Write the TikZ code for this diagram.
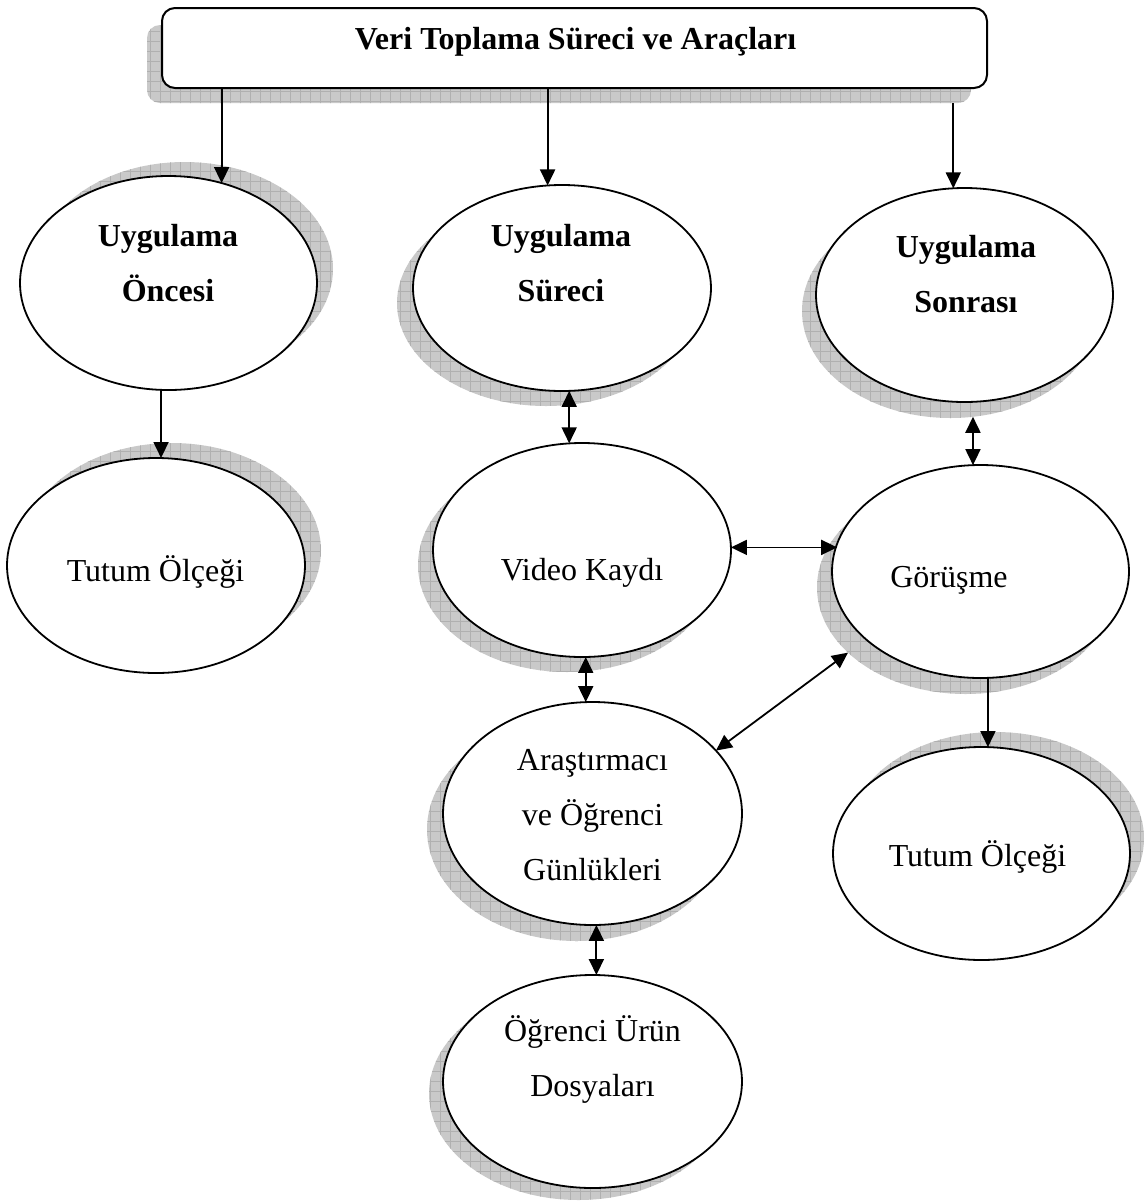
\documentclass[tikz,border=0pt]{standalone}
\usepackage{fontspec}
\setmainfont{Liberation Serif}
\usetikzlibrary{shapes.geometric,arrows.meta,patterns}

% coarse cross-hatch used inside the drop shadows
\pgfdeclarepatternformonly{shgrid}{\pgfpoint{-1pt}{-1pt}}{\pgfpoint{6pt}{6pt}}{\pgfpoint{5pt}{5pt}}{%
  \pgfsetlinewidth{0.4pt}%
  \pgfpathmoveto{\pgfpoint{0pt}{0pt}}\pgfpathlineto{\pgfpoint{0pt}{5.1pt}}%
  \pgfpathmoveto{\pgfpoint{0pt}{0pt}}\pgfpathlineto{\pgfpoint{5.1pt}{0pt}}%
  \pgfusepath{stroke}}

\begin{document}
\begin{tikzpicture}[x=0.5pt,y=-0.5pt,
  ell/.style={ellipse,draw,line width=0.9pt,fill=white,inner sep=0pt,outer sep=0pt},
  shd/.style={ellipse,fill=gray!42,postaction={pattern=shgrid,pattern color=gray!62},inner sep=0pt,outer sep=0pt},
  boxshd/.style={rectangle,rounded corners=6.5pt,fill=gray!42,postaction={pattern=shgrid,pattern color=gray!62},inner sep=0pt,outer sep=0pt},
  titlebox/.style={rectangle,rounded corners=6.5pt,draw,line width=1pt,fill=white,inner sep=0pt,outer sep=0pt},
  lbl/.style={font=\fontsize{16}{27.5}\selectfont,align=center,inner sep=0pt},
  blbl/.style={lbl,font=\fontsize{16}{27.5}\selectfont\bfseries},
  tip/.tip={Triangle[length=8pt,width=7.5pt]},
  arr/.style={line width=0.9pt,-tip},
  darr/.style={line width=0.9pt,tip-tip},
]
\useasboundingbox (0,0) rectangle (1147,1201);

% heading box
\node[boxshd,minimum width=412pt,minimum height=39pt] (titles) at (559,64) {};
\node[titlebox,minimum width=412.5pt,minimum height=40pt] (title) at (574.5,48) {};

% shadows of the ellipses
\node[shd,minimum width=148.5pt,minimum height=107pt]   (E1s) at (184.5,269) {};
\node[shd,minimum width=149pt,minimum height=103pt]     (E2s) at (546,303) {};
\node[shd,minimum width=148.5pt,minimum height=107pt]   (E3s) at (950.5,311) {};
\node[shd,minimum width=149pt,minimum height=107.5pt]   (E4s) at (172,550.5) {};
\node[shd,minimum width=149pt,minimum height=107pt]     (E5s) at (567,565) {};
\node[shd,minimum width=148.5pt,minimum height=106.5pt] (E6s) at (965.5,587.5) {};
\node[shd,minimum width=149.5pt,minimum height=111.5pt] (E7s) at (576.5,829.5) {};
\node[shd,minimum width=149.5pt,minimum height=106.5pt] (E8s) at (578.5,1093.5) {};
\node[shd,minimum width=148.5pt,minimum height=106.5pt] (E9s) at (995.5,838.5) {};

% ellipses
\node[ell,minimum width=148.5pt,minimum height=107pt]   (E1) at (168.5,283) {};
\node[ell,minimum width=149pt,minimum height=103pt]     (E2) at (562,288) {};
\node[ell,minimum width=148.5pt,minimum height=107pt]   (E3) at (964.5,295) {};
\node[ell,minimum width=149pt,minimum height=107.5pt]   (E4) at (156,565.5) {};
\node[ell,minimum width=149pt,minimum height=107pt]     (E5) at (582,550) {};
\node[ell,minimum width=148.5pt,minimum height=106.5pt] (E6) at (980.5,571.5) {};
\node[ell,minimum width=149.5pt,minimum height=111.5pt] (E7) at (592.5,813.5) {};
\node[ell,minimum width=149.5pt,minimum height=106.5pt] (E8) at (592.5,1081.5) {};
\node[ell,minimum width=148.5pt,minimum height=106.5pt] (E9) at (981.5,853.5) {};

% texts
\node[blbl] (tTitle) at (575.5,42) {Veri Toplama Süreci ve Araçları};
\node[blbl] (t1) at (168,263.5) {Uygulama\\Öncesi};
\node[blbl] (t2) at (561,263) {Uygulama\\Süreci};
\node[blbl] (t3) at (966,274.5) {Uygulama\\Sonrası};
\node[lbl]  (t4) at (155.5,572) {Tutum Ölçeği};
\node[lbl]  (t5) at (582,572.5) {Video Kaydı};
\node[lbl]  (t6) at (949,580.5) {Görüşme};
\node[lbl]  (t7) at (592.5,815.5) {Araştırmacı\\ve Öğrenci\\Günlükleri};
\node[lbl]  (t8) at (592.5,1059.5) {Öğrenci Ürün\\Dosyaları};
\node[lbl]  (t9) at (977.5,857) {Tutum Ölçeği};

% connectors
\draw[arr]  (E1.62.85 |- title.south) -- (E1.62.85);
\draw[arr]  (E2.98.3 |- title.south) -- (E2.98.3);
\draw[arr]  (E3.96.7 |- titles.south) -- (E3.96.7);
\draw[arr]  (E1.266) -- (E1.266 |- E4.north);
\draw[darr] (E2.-86.1) -- (E2.-86.1 |- E5.96.95);
\draw[darr] (E5.1.92) -- (E5.1.92 -| E6.169.56);
\draw[darr] (E5.-88.4) -- (E5.-88.4 |- E7.93.85);
\draw[darr] (E7.27.9) -- (E6s.209.9);
\draw[darr] (E3s.-78) -- (E3s.-78 |- E6.94);
\draw[arr]  (E6.-86.5) -- (E6.-86.5 |- E9.87);
\draw[darr] (E7.-88.7) -- (E7.-88.7 |- E8.88.7);
\end{tikzpicture}
\end{document}
